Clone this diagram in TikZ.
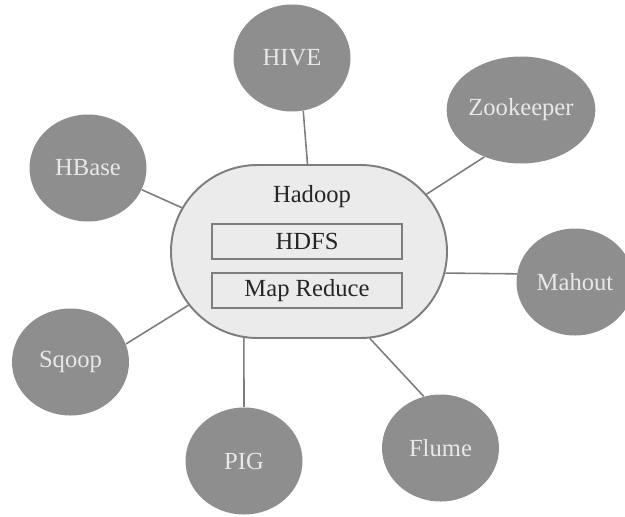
\documentclass[tikz,border=0pt]{standalone}
\usepackage{fontspec}
\setmainfont{Liberation Serif}
\usetikzlibrary{shapes.geometric,shapes.misc}
\definecolor{toolgray}{RGB}{142,142,142}
\definecolor{tooltext}{RGB}{232,232,232}
\definecolor{coregray}{RGB}{235,235,235}
\definecolor{edgegray}{RGB}{125,125,125}
\tikzset{
  tool blob/.style={
    ellipse, fill=toolgray, draw=none, inner sep=0pt,
    minimum width=23.4mm, minimum height=21.4mm,
    text=tooltext, font=\fontsize{14}{16}\selectfont
  },
  core blob/.style={
    rounded rectangle, fill=coregray, draw=edgegray, line width=1.1pt,
    inner sep=0pt, minimum width=55.2mm, minimum height=34.6mm
  },
  layer box/.style={
    rectangle, fill=coregray, draw=edgegray, line width=0.9pt,
    inner sep=0pt, minimum width=38mm, minimum height=7mm,
    font=\fontsize{14}{16}\selectfont, text=black!85
  },
  spoke/.style={draw=edgegray, line width=0.9pt}
}

\begin{document}
\begin{tikzpicture}
\useasboundingbox (0,0) rectangle (12.5,10.32);

% centre: Hadoop with its two layers
\node[core blob] (hub) at (6.18,5.29) {};
\node[font=\fontsize{14}{16}\selectfont, text=black!85] (hadoop) at (6.24,6.38) {Hadoop};
\node[layer box] (hdfs) at (6.14,5.49) {HDFS};
\node[layer box] (mapred) at (6.14,4.51) {Map Reduce};

% surrounding tools
\node[tool blob] (hive)   at ( 5.84,9.16) {HIVE};
\node[tool blob] (zoo)    at (10.42,8.12) {Zookeeper};
\node[tool blob] (hbase)  at ( 1.76,6.96) {HBase};
\node[tool blob] (mahout) at (11.50,4.68) {Mahout};
\node[tool blob] (flume)  at ( 8.81,1.36) {Flume};
\node[tool blob] (pig)    at ( 4.88,1.10) {PIG};
\node[tool blob] (sqoop)  at ( 1.41,3.08) {Sqoop};

% spokes
\draw[spoke] (hive.-78)   -- (hub.91);
\draw[spoke] (zoo.232)    -- (hub.26);
\draw[spoke] (hbase.-22)  -- (hub.161);
\draw[spoke] (mahout.172) -- (hub.-9);
\draw[spoke] (flume.108)  -- (hub.-55);
\draw[spoke] (pig.north)  -- (hub.-127);
\draw[spoke] (sqoop.18)   -- (hub.204);

\end{tikzpicture}
\end{document}
